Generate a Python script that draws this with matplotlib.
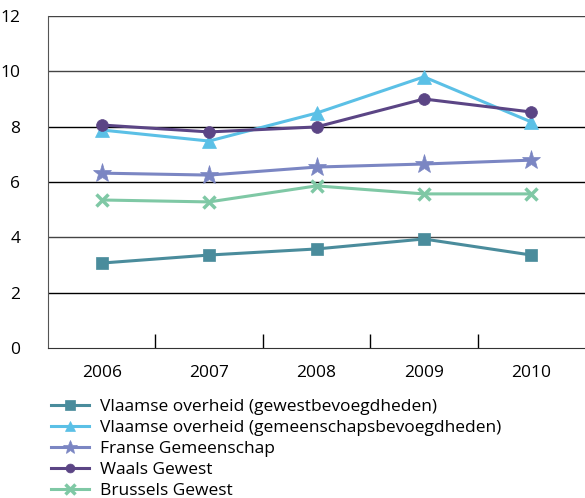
import matplotlib.pyplot as plt

plt.rcParams['font.family'] = ['Open Sans', 'DejaVu Sans']

years = ['2006', '2007', '2008', '2009', '2010']
vl_gewest = [3.07, 3.36, 3.58, 3.94, 3.36]
vl_gemeen = [7.88, 7.48, 8.49, 9.80, 8.17]
franse = [6.32, 6.25, 6.54, 6.65, 6.79]
waals = [8.06, 7.81, 7.99, 9.00, 8.53]
brussels = [5.35, 5.28, 5.86, 5.57, 5.57]

labels = ['Vlaamse overheid (gewestbevoegdheden)',
          'Vlaamse overheid (gemeenschapsbevoegdheden)',
          'Franse Gemeenschap', 'Waals Gewest', 'Brussels Gewest']
colors = ['#4a8c9c', '#5bc0e6', '#7b86c3', '#5b4585', '#7fc8a5']
markers = ['s', '^', '*', 'o', 'x']
sizes = [9, 10, 14, 8.5, 9]

fig = plt.figure(figsize=(5.85, 4.98), dpi=100)
ax = fig.add_axes([48/585, 150/498, 537/585, 332/498])

x = range(len(years))
series = [vl_gewest, vl_gemeen, franse, waals, brussels]
handles = []
for s, c, m, ms, lab in zip(series, colors, markers, sizes, labels):
    mew = 2.5 if m == 'x' else 0.5
    h, = ax.plot(x, s, color=c, marker=m, ms=ms, lw=2.2, mec=c, mew=mew, label=lab)
    handles.append(h)

ax.set_xlim(-0.5, 4.5)
ax.set_ylim(0, 12)
ax.set_yticks(range(0, 13, 2))
for yv in range(2, 13, 2):
    ax.axhline(yv, color='#444444' if yv in (4, 10, 12) else 'black', lw=1, zorder=0)
ax.set_xticks(x)
ax.set_xticklabels(years, fontsize=12.5)
ax.tick_params(axis='x', length=0, pad=12)
ax.set_xticks([0.5, 1.5, 2.5, 3.5], minor=True)
ax.tick_params(axis='x', which='minor', direction='in', length=10, width=1, color='black')
ax.tick_params(axis='y', length=0, labelsize=12.5, pad=20)
for sp in ['top', 'right']:
    ax.spines[sp].set_visible(False)
ax.spines['left'].set_color('#555555')
ax.spines['bottom'].set_color('#333333')

fig.legend(handles=handles, loc='upper left', bbox_to_anchor=(44/585, 1 - 392/498),
           frameon=False, fontsize=12.5, handlelength=2.2, labelspacing=0.28,
           handletextpad=0.6, borderaxespad=0, markerscale=0.75)

fig.savefig('out.png', dpi=100)
